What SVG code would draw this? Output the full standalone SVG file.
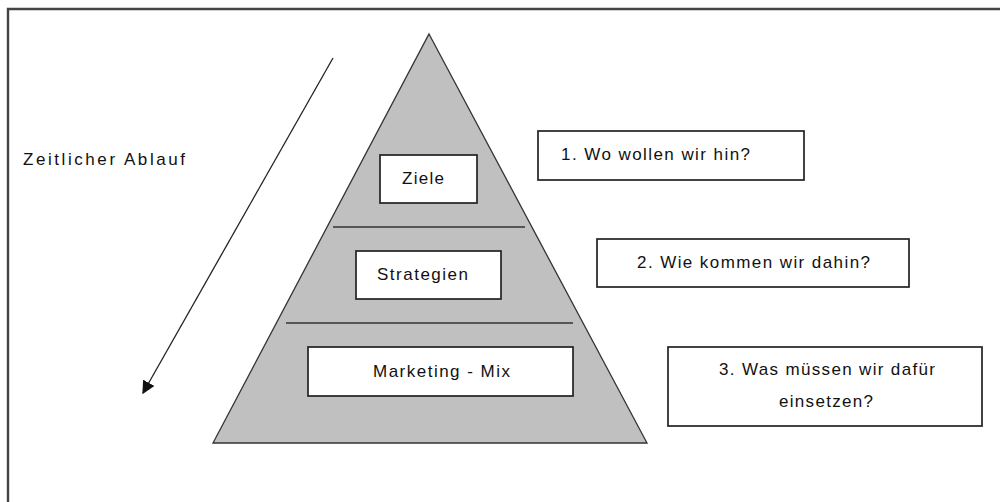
<svg xmlns="http://www.w3.org/2000/svg" width="1000" height="502" viewBox="0 0 1000 502">
  <style>
    .frame { fill: none; stroke: #444; stroke-width: 2.4; }
    .pyr { fill: #c0c0c0; stroke: #333; stroke-width: 1.3; }
    .div { stroke: #333; stroke-width: 1.3; }
    .box { fill: #fff; stroke: #222; stroke-width: 1.7; }
    .lbl { font-family: "Liberation Sans", Arial, sans-serif; font-size: 17px; fill: #111; }
    .conn { stroke: #222; stroke-width: 1.3; fill: none; }
  </style>
  <defs>
    <marker id="arrowhead" viewBox="0 0 10 10" refX="9" refY="5" markerWidth="13" markerHeight="13" markerUnits="userSpaceOnUse" orient="auto">
      <path d="M0,0 L10,5 L0,10 z" fill="#111"/>
    </marker>
  </defs>

  <rect width="1000" height="502" fill="#fff"/>
  <!-- outer frame, open at right and bottom -->
  <path class="frame" d="M8,502 V9 H1000"/>

  <!-- pyramid with two layer dividers -->
  <g id="pyramid">
    <polygon class="pyr" points="429,34 647,443 213,443"/>
    <line class="div" x1="333" y1="227" x2="525" y2="227"/>
    <line class="div" x1="286" y1="323" x2="573" y2="323"/>
  </g>

  <g id="ziele">
    <rect class="box" x="380" y="155" width="97" height="48"/>
    <text class="lbl" x="402" y="184" textLength="42">Ziele</text>
  </g>
  <g id="strategien">
    <rect class="box" x="356" y="251" width="145" height="48"/>
    <text class="lbl" x="377" y="280" textLength="91">Strategien</text>
  </g>
  <g id="marketing-mix">
    <rect class="box" x="308" y="347" width="265" height="49"/>
    <text class="lbl" x="373" y="377" textLength="137">Marketing - Mix</text>
  </g>

  <g id="frage1">
    <rect class="box" x="538" y="131" width="266" height="49"/>
    <text class="lbl" x="561" y="160" textLength="189">1. Wo wollen wir hin?</text>
  </g>
  <g id="frage2">
    <rect class="box" x="597" y="239" width="312" height="48"/>
    <text class="lbl" x="637" y="268" textLength="233">2. Wie kommen wir dahin?</text>
  </g>
  <g id="frage3">
    <rect class="box" x="668" y="347" width="314" height="79"/>
    <text class="lbl" x="719" y="375" textLength="216">3. Was müssen wir dafür</text>
    <text class="lbl" x="779" y="407" textLength="94">einsetzen?</text>
  </g>

  <g id="zeitachse">
    <text class="lbl" x="23" y="165" textLength="162">Zeitlicher Ablauf</text>
  </g>

  <g id="connectors">
    <line class="conn" x1="333" y1="58" x2="143" y2="393" marker-end="url(#arrowhead)"/>
  </g>
</svg>
